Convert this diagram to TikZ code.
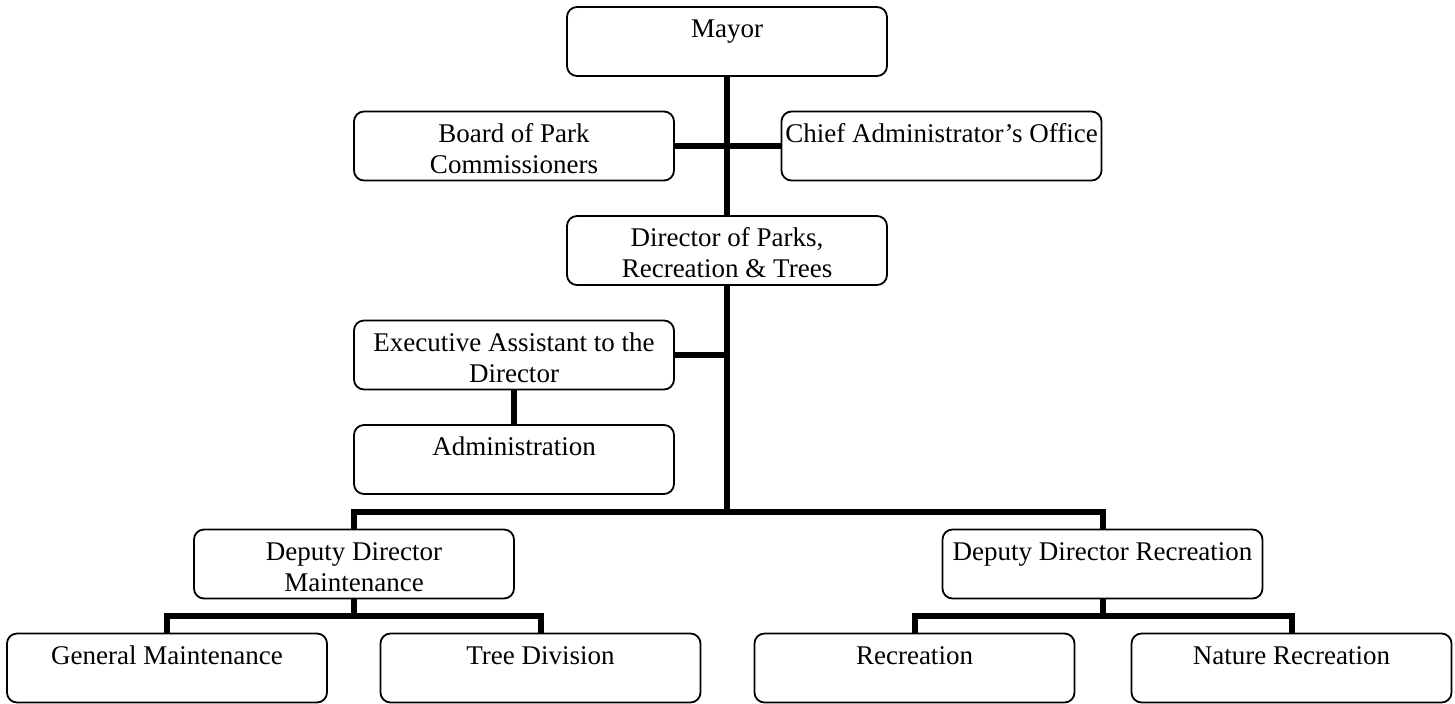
\documentclass[tikz,border=0pt]{standalone}
\usepackage{fontspec}
\setmainfont{Liberation Serif}
\newcommand{\orgtext}[1]{\parbox[c][34pt][t]{158pt}{\centering\rule{0pt}{15pt}#1}}

\begin{document}
\begin{tikzpicture}[x=0.5pt,y=-0.5pt,
  orgbox/.style={draw,rounded corners=5pt,line width=0.9pt,inner sep=0pt,
    minimum width=160pt,minimum height=34.5pt,font=\fontsize{13.5pt}{15.5pt}\selectfont},
  link/.style={line width=3pt}]
\useasboundingbox (0,0) rectangle (1455,703);

% Top of the chart
\node[orgbox] (mayor) at (727,41.5) {\orgtext{Mayor}};
\node[orgbox] (board) at (514,146) {\orgtext{Board of Park\\Commissioners}};
\node[orgbox] (chief) at (941.5,146) {\orgtext{Chief Administrator’s Office}};
\node[orgbox] (director) at (727,250.5) {\orgtext{Director of Parks,\\Recreation \& Trees}};
\node[orgbox] (exec) at (514,355) {\orgtext{Executive Assistant to the\\Director}};
\node[orgbox] (admin) at (514,459.5) {\orgtext{Administration}};

% Deputies and divisions
\node[orgbox] (depmaint) at (354,564) {\orgtext{Deputy Director\\Maintenance}};
\node[orgbox] (deprec) at (1102.5,564) {\orgtext{Deputy Director Recreation}};
\node[orgbox] (genmaint) at (167,668) {\orgtext{General Maintenance}};
\node[orgbox] (tree) at (540.5,668) {\orgtext{Tree Division}};
\node[orgbox] (rec) at (914.5,668) {\orgtext{Recreation}};
\node[orgbox] (nature) at (1291.5,668) {\orgtext{Nature Recreation}};

% Connectors
\coordinate (bus) at (727,512);
\coordinate (mbus) at (354,616);
\coordinate (rbus) at (1102.5,616);
\draw[link] (mayor) -- (director);
\draw[link] (board) -- (chief);
\draw[link] (exec.east) -- (exec.east -| director.south);
\draw[link] (exec) -- (admin);
\draw[link] (director) -- (bus);
\draw[link] (depmaint) |- (bus) -| (deprec);
\draw[link] (depmaint) -- (mbus);
\draw[link] (genmaint) |- (mbus) -| (tree);
\draw[link] (deprec) -- (rbus);
\draw[link] (rec) |- (rbus) -| (nature);
\end{tikzpicture}
\end{document}
